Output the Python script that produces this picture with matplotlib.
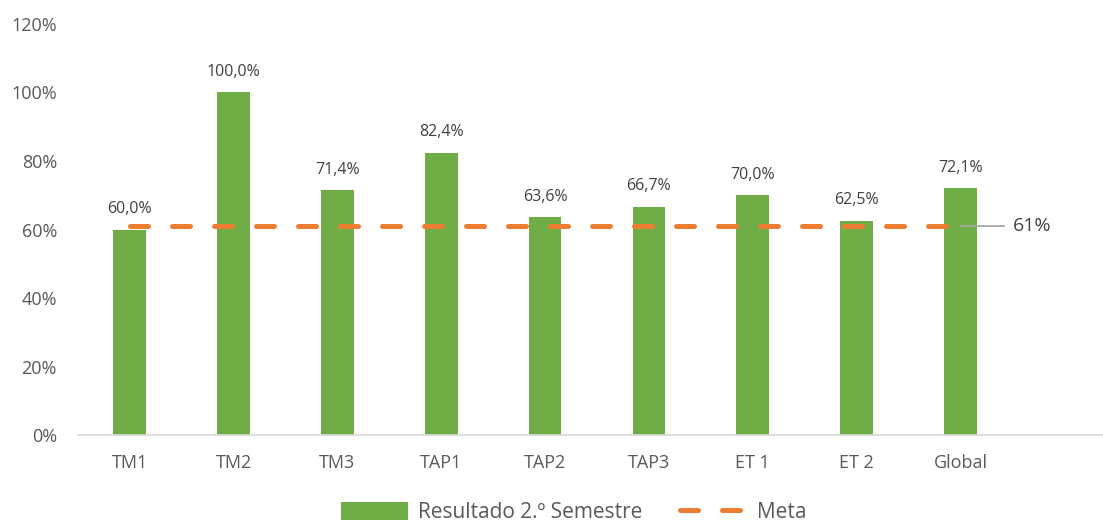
import matplotlib.pyplot as plt
from matplotlib.lines import Line2D
from matplotlib.patches import Patch

plt.rcParams['font.family'] = ['Open Sans', 'DejaVu Sans']

categories = ["TM1", "TM2", "TM3", "TAP1", "TAP2", "TAP3", "ET 1", "ET 2", "Global"]
resultado = [0.600, 1.000, 0.714, 0.824, 0.636, 0.667, 0.700, 0.625, 0.721]
meta = [0.61] * len(categories)
yticks = [0, 0.2, 0.4, 0.6, 0.8, 1.0, 1.2]

green = "#70AD47"
orange = "#ED7D31"
txt = "#595959"

fig = plt.figure(figsize=(11.03, 5.21), dpi=100)
# the plot area runs a bit past the right edge, as in the original
ax = fig.add_axes([0.0705, 0.165, 0.9415, 0.789])

x = list(range(len(categories)))
ax.bar(x, resultado, width=0.315, color=green, zorder=2)

for xi, v in zip(x, resultado):
    lbl = f"{v * 100:.1f}%".replace(".", ",")
    ax.annotate(lbl, (xi, v), xytext=(0, 9), textcoords="offset points",
                ha="center", va="bottom", fontsize=11.5, color="#404040")

ax.plot(x, meta, color=orange, lw=3.6, dashes=(3.6, 4.8),
        dash_capstyle="round", zorder=3)

# label for the last meta point with a leader line
ax.annotate("", xy=(x[-1], meta[-1]), xytext=(x[-1] + 0.42, meta[-1]),
            arrowprops=dict(arrowstyle="-", color="#A6A6A6", lw=1.3,
                            shrinkA=0, shrinkB=0), zorder=4)
ax.text(x[-1] + 0.5, meta[-1], f"{meta[-1] * 100:.0f}%", ha="left",
        va="center", fontsize=14, color="#404040")

ax.set_xlim(-0.5, 9.5)
ax.set_ylim(0, 1.2)
ax.set_yticks(yticks)
ax.set_yticklabels([f"{t * 100:.0f}%" for t in yticks])
ax.set_xticks(x)
ax.set_xticklabels(categories)
ax.tick_params(axis="both", length=0, labelsize=13, colors=txt)
ax.tick_params(axis="x", pad=14)
ax.tick_params(axis="y", pad=15)
for s in ["top", "right", "left"]:
    ax.spines[s].set_visible(False)
ax.spines["bottom"].set_color("#D9D9D9")
ax.spines["bottom"].set_linewidth(1.2)

handles = [Patch(facecolor=green, label="Resultado 2.º Semestre"),
           Line2D([0], [0], color=orange, lw=3.6, dashes=(3.6, 4.8),
                  dash_capstyle="round", label="Meta")]
fig.legend(handles=handles, loc="lower center", bbox_to_anchor=(0.5204, -0.04),
           ncol=2, frameon=False, fontsize=15, labelcolor=txt,
           handlelength=3.2, handleheight=0.9, columnspacing=1.8,
           handletextpad=0.5)

fig.savefig("out.png", dpi=100)
